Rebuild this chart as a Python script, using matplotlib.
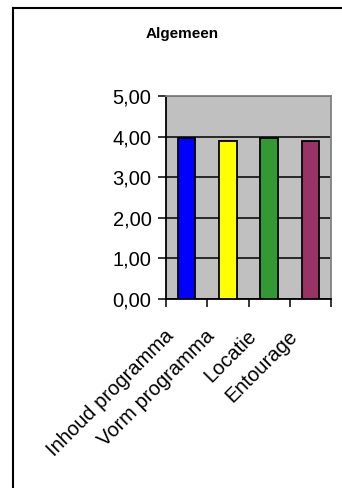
import matplotlib
matplotlib.use("Agg")
import matplotlib.pyplot as plt
from matplotlib.lines import Line2D
from matplotlib.transforms import ScaledTranslation
import numpy as np

## Data
categories = ["Inhoud programma", "Vorm programma", "Locatie", "Entourage"]
scores = [3.96, 3.88, 3.96, 3.88]
bar_colors = ["#0000FF", "#FFFF00", "#339933", "#993366"]
y_ticks = [0, 1, 2, 3, 4, 5]
y_labels = ["0,00", "1,00", "2,00", "3,00", "4,00", "5,00"]

plt.rcParams['font.family'] = ['Liberation Sans', 'DejaVu Sans']

W, H = 342, 488
fig = plt.figure(figsize=(W / 100, H / 100), dpi=100)
fig.patch.set_facecolor("white")

ax = fig.add_axes([166 / W, 1 - 299 / H, (331 - 166) / W, (299 - 96) / H])
ax.set_facecolor("#C0C0C0")

x = np.arange(len(categories))
ax.bar(x, scores, width=0.42, color=bar_colors, edgecolor="black",
       linewidth=1.3, zorder=3)

ax.set_xlim(-0.5, len(categories) - 0.5)
ax.set_ylim(0, 5)

# gridlines at each whole score
ax.set_yticks(y_ticks)
ax.set_yticklabels(y_labels, fontsize=14.5)
ax.yaxis.grid(True, color="black", linewidth=1.1, zorder=1)
ax.set_axisbelow(True)
ax.tick_params(axis="y", direction="out", length=5.5, width=1.1, pad=5)

# ticks between categories, labels under the bars
ax.set_xticks(np.arange(-0.5, len(categories), 1.0))
ax.set_xticklabels([])
ax.tick_params(axis="x", which="major", direction="out", length=5.5, width=1.1)

shift = ScaledTranslation(-12 / 100, -38 / 100, fig.dpi_scale_trans)
for i, name in enumerate(categories):
    ax.text(x[i], 0, name, transform=ax.transData + shift, rotation=45,
            rotation_mode="anchor", ha="right", va="baseline", fontsize=14.5,
            clip_on=False)

for side in ["left", "bottom"]:
    ax.spines[side].set_color("black")
    ax.spines[side].set_linewidth(1.3)
for side in ["top", "right"]:
    ax.spines[side].set_color("#808080")
    ax.spines[side].set_linewidth(1.3)

fig.text(182 / W, 1 - 38 / H, "Algemeen", ha="center", va="baseline",
         fontsize=11, fontweight="bold")

# chart frame (top and left edges)
fig.add_artist(Line2D([12.5 / W, 1], [1 - 7.5 / H, 1 - 7.5 / H],
                      color="black", linewidth=1.5, transform=fig.transFigure))
fig.add_artist(Line2D([12.5 / W, 12.5 / W], [0, 1 - 7.5 / H],
                      color="black", linewidth=1.5, transform=fig.transFigure))

fig.savefig("out.png", dpi=100)
